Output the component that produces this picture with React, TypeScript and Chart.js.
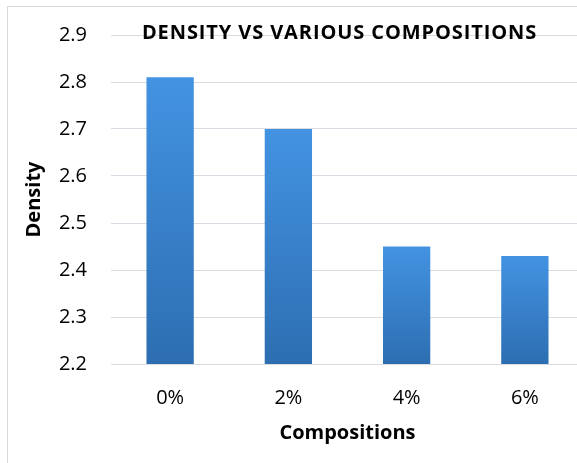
import React, { useEffect, useRef } from "react";
import { Chart, registerables } from "chart.js";

Chart.register(...registerables);

const categories = ["0%", "2%", "4%", "6%"];
const densityValues = [2.81, 2.7, 2.45, 2.43];
const yTicks = [2.2, 2.3, 2.4, 2.5, 2.6, 2.7, 2.8, 2.9];
const chartTitle = "DENSITY VS VARIOUS COMPOSITIONS";
const xAxisTitle = "Compositions";
const yAxisTitle = "Density";

const FONT = "'Open Sans', 'DejaVu Sans', sans-serif";

const titlePlugin = {
  id: "insideTitle",
  afterDraw(chart: any) {
    const { ctx, chartArea, scales } = chart;
    if (!chartArea) return;
    const y = scales.y.getPixelForValue(yTicks[yTicks.length - 1]) - 2;
    const x = (chartArea.left + chartArea.right) / 2 - 8;
    ctx.save();
    ctx.font = `bold 20px ${FONT}`;
    try {
      (ctx as any).letterSpacing = "0.9px";
    } catch (e) {}
    ctx.fillStyle = "#000";
    ctx.textAlign = "center";
    ctx.textBaseline = "middle";
    ctx.fillText(chartTitle, x, y);
    ctx.restore();
  },
};

export default function App() {
  const canvasRef = useRef<HTMLCanvasElement | null>(null);

  useEffect(() => {
    if (!canvasRef.current) return;
    const chart = new Chart(canvasRef.current, {
      type: "bar",
      data: {
        labels: categories,
        datasets: [
          {
            label: yAxisTitle,
            data: densityValues,
            barPercentage: 0.4,
            categoryPercentage: 1,
            borderWidth: 0,
            backgroundColor: (c: any) => {
              const ch = c.chart;
              if (!ch.chartArea || c.type !== "data") return "#3a85d2";
              const ys = ch.scales.y;
              const top = ys.getPixelForValue(c.raw);
              const bottom = ys.getPixelForValue(ys.min);
              const g = ch.ctx.createLinearGradient(0, top, 0, bottom);
              g.addColorStop(0, "#4393e2");
              g.addColorStop(1, "#2d6eb1");
              return g;
            },
          },
        ],
      },
      options: {
        animation: false,
        responsive: true,
        maintainAspectRatio: false,
        layout: { padding: { top: 28, right: 14, left: 0, bottom: 0 } },
        plugins: {
          legend: { display: false },
          title: { display: false },
          tooltip: { enabled: false },
        },
        scales: {
          x: {
            grid: { display: false, drawTicks: false },
            border: { display: false },
            ticks: {
              padding: 22,
              color: "#000",
              font: { family: FONT, size: 20 },
            },
            title: {
              display: true,
              text: xAxisTitle,
              color: "#000",
              font: { family: FONT, size: 20, weight: "bold" },
              padding: { top: 0, bottom: 18 },
            },
            afterFit: (s: any) => {
              s.height = 99;
              s.paddingLeft = 0;
              s.paddingRight = 0;
            },
          },
          y: {
            min: yTicks[0],
            max: yTicks[yTicks.length - 1],
            grid: { color: "#d9dde3", lineWidth: 1, drawTicks: false },
            border: { display: false },
            afterBuildTicks: (s: any) => {
              s.ticks = yTicks.map((v) => ({ value: v }));
            },
            ticks: {
              padding: 24,
              color: "#000",
              font: { family: FONT, size: 20 },
              callback: (v: any) => Number(v).toFixed(1),
            },
            title: {
              display: true,
              text: yAxisTitle,
              color: "#000",
              font: { family: FONT, size: 20, weight: "bold" },
              padding: { top: 14, bottom: 0 },
            },
            afterFit: (s: any) => {
              s.width = 103;
              s.paddingTop = 0;
              s.paddingBottom = 0;
            },
          },
        },
      },
      plugins: [titlePlugin],
    } as any);
    return () => chart.destroy();
  }, []);

  return (
    <div
      style={{
        position: "fixed",
        left: 0,
        top: 0,
        width: 577,
        height: 463,
        overflow: "hidden",
        background: "#fff",
      }}
    >
      <div
        style={{
          position: "absolute",
          left: 7,
          top: 6,
          width: 620,
          height: 480,
          borderLeft: "1px solid #d9d9d9",
          borderTop: "1px solid #d9d9d9",
        }}
      >
        <div style={{ position: "relative", width: 590, height: 456 }}>
          <canvas ref={canvasRef} />
        </div>
      </div>
    </div>
  );
}
